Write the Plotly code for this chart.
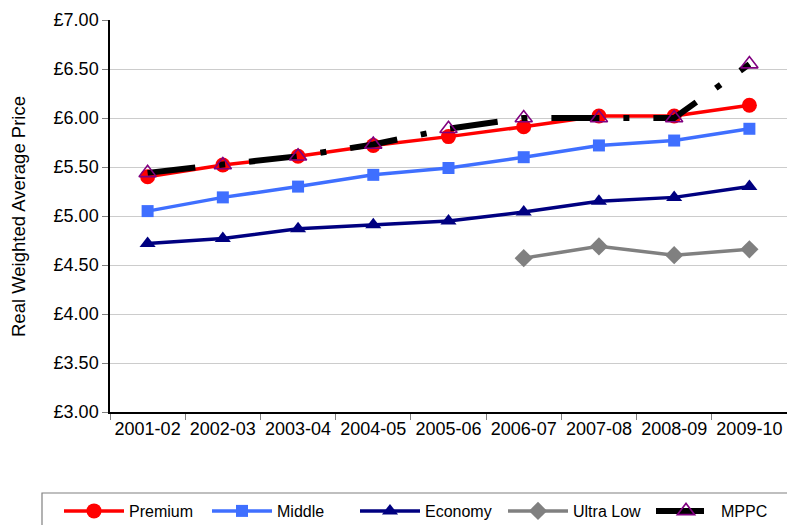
import plotly.graph_objects as go

years = ["2001-02", "2002-03", "2003-04", "2004-05", "2005-06",
         "2006-07", "2007-08", "2008-09", "2009-10"]
premium = [5.40, 5.52, 5.61, 5.72, 5.81, 5.91, 6.02, 6.02, 6.13]
middle = [5.05, 5.19, 5.30, 5.42, 5.49, 5.60, 5.72, 5.77, 5.89]
economy = [4.72, 4.77, 4.87, 4.91, 4.95, 5.04, 5.15, 5.19, 5.30]
ultra_years = ["2006-07", "2007-08", "2008-09", "2009-10"]
ultra_low = [4.57, 4.69, 4.60, 4.66]
mppc = [5.44, 5.52, 5.61, 5.73, 5.89, 6.00, 6.00, 6.00, 6.55]
y_ticks = [3.0, 3.5, 4.0, 4.5, 5.0, 5.5, 6.0, 6.5, 7.0]

FONT = "Liberation Sans, Arial, sans-serif"
L, T, B = 110, 20, 113
PW, PH = 787 - L, 525 - T - B

fig = go.Figure()
fig.add_trace(go.Scatter(x=years, y=premium, name="Premium", mode="lines+markers",
                         line=dict(color="#FF0000", width=3.5),
                         marker=dict(symbol="circle", size=15, color="#FF0000")))
fig.add_trace(go.Scatter(x=years, y=middle, name="Middle", mode="lines+markers",
                         line=dict(color="#3F6FFF", width=3.5),
                         marker=dict(symbol="square", size=12, color="#3F6FFF")))
fig.add_trace(go.Scatter(x=years, y=economy, name="Economy", mode="lines+markers",
                         line=dict(color="#000080", width=3.5),
                         marker=dict(symbol="triangle-up", size=14, color="#000080")))
fig.add_trace(go.Scatter(x=ultra_years, y=ultra_low, name="Ultra Low", mode="lines+markers",
                         line=dict(color="#808080", width=3.5),
                         marker=dict(symbol="diamond", size=14, color="#808080")))
fig.add_trace(go.Scatter(x=years, y=mppc, name="MPPC", mode="lines+markers",
                         line=dict(color="#000000", width=6, dash="48px,24px,6px,24px"),
                         marker=dict(symbol="triangle-up-open", size=15, color="#800080",
                                     line=dict(width=1.6, color="#800080"))))

fig.update_layout(
    width=787, height=525,
    margin=dict(l=L, r=0, t=T, b=B, autoexpand=False),
    paper_bgcolor="white", plot_bgcolor="white",
    font=dict(family=FONT, size=16, color="#000000"),
    showlegend=True,
    legend=dict(orientation="h", x=(59 - L) / PW, xanchor="left",
                y=-(494 - (T + PH)) / PH, yanchor="top",
                borderwidth=0, bgcolor="rgba(0,0,0,0)",
                font=dict(size=16, family=FONT), itemwidth=60,
                entrywidth=73, entrywidthmode="pixels",
                traceorder="normal", tracegroupgap=0),
    xaxis=dict(type="category", categoryorder="array", categoryarray=years,
               range=[-0.5, 8.5], showline=True, linecolor="#000000", linewidth=1.5,
               ticks="outside", ticklen=6, tickcolor="#808080", tickson="boundaries",
               showgrid=False, zeroline=False, tickfont=dict(size=18), automargin=False),
    yaxis=dict(range=[3.0, 7.0], tickvals=y_ticks,
               ticktext=["£%.2f" % v for v in y_ticks],
               showline=True, linecolor="#000000", linewidth=1.5,
               ticks="outside", ticklen=6, tickcolor="#808080",
               showgrid=True, gridcolor="#CCCCCC", gridwidth=1, zeroline=False,
               tickfont=dict(size=18), automargin=False),
    shapes=[dict(type="rect", xref="paper", yref="paper",
                 x0=(42 - L) / PW, x1=(800 - L) / PW,
                 y0=-(493 - (T + PH)) / PH, y1=-(540 - (T + PH)) / PH,
                 line=dict(color="#808080", width=1.2), fillcolor="rgba(0,0,0,0)",
                 layer="below")],
    annotations=[dict(text="Real Weighted Average Price", xref="paper", yref="paper",
                      x=(18 - L) / PW, y=0.5, xanchor="center", yanchor="middle",
                      textangle=-90, showarrow=False, font=dict(size=18.5))],
)

fig.write_html("out.html", config={"displayModeBar": False},
               post_script="document.body.style.margin='0';document.body.style.overflow='hidden';")
